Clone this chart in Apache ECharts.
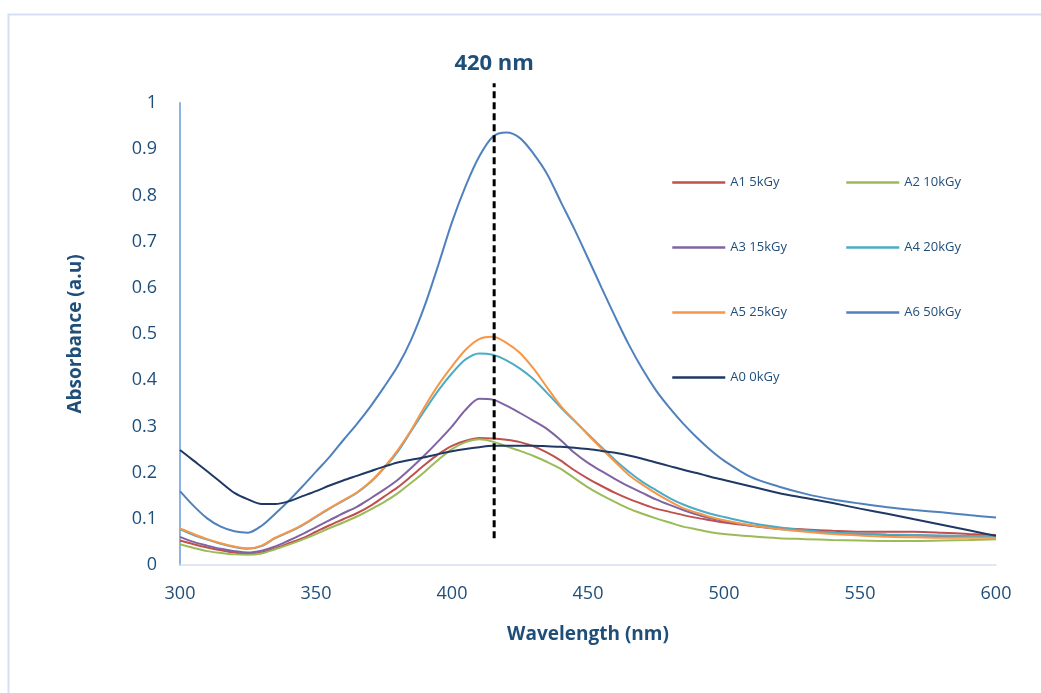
<!DOCTYPE html>
<html>
<head>
<meta charset="utf-8">
<script src="https://cdn.jsdelivr.net/npm/echarts@6/dist/echarts.min.js"></script>
<style>
html,body{margin:0;padding:0;background:#fff;}
#uvChart{width:1041px;height:693px;}
</style>
</head>
<body>
<div id="uvChart"></div>
<script>
var wavelength = [300,305,310,315,320,325,330,335,340,345,350,355,360,365,370,375,380,385,390,395,400,405,410,415,420,425,430,435,440,445,450,455,460,465,470,475,480,485,490,495,500,510,520,530,540,550,560,570,580,590,600];
var a1 = [0.053,0.045,0.038,0.032,0.027,0.024,0.027,0.036,0.047,0.058,0.072,0.086,0.099,0.112,0.128,0.148,0.168,0.192,0.217,0.240,0.258,0.269,0.275,0.274,0.271,0.266,0.257,0.243,0.226,0.205,0.187,0.171,0.156,0.143,0.132,0.122,0.115,0.108,0.102,0.097,0.092,0.085,0.080,0.077,0.074,0.072,0.072,0.072,0.070,0.067,0.065];
var a2 = [0.045,0.037,0.030,0.026,0.023,0.022,0.025,0.034,0.044,0.055,0.067,0.080,0.092,0.105,0.120,0.136,0.155,0.178,0.202,0.228,0.251,0.266,0.272,0.267,0.257,0.247,0.236,0.223,0.208,0.188,0.168,0.151,0.136,0.122,0.111,0.101,0.092,0.083,0.077,0.071,0.067,0.062,0.058,0.056,0.054,0.053,0.052,0.052,0.053,0.054,0.056];
var a3 = [0.061,0.050,0.042,0.035,0.030,0.027,0.031,0.040,0.053,0.067,0.082,0.097,0.112,0.126,0.144,0.163,0.184,0.210,0.238,0.268,0.300,0.336,0.360,0.358,0.345,0.329,0.312,0.294,0.270,0.243,0.221,0.203,0.186,0.170,0.156,0.142,0.130,0.119,0.109,0.101,0.095,0.085,0.078,0.074,0.070,0.067,0.065,0.064,0.063,0.062,0.061];
var a4 = [0.077,0.065,0.055,0.046,0.039,0.035,0.041,0.058,0.071,0.086,0.104,0.122,0.139,0.156,0.179,0.209,0.245,0.290,0.335,0.378,0.415,0.445,0.458,0.455,0.443,0.425,0.402,0.372,0.341,0.312,0.283,0.255,0.227,0.202,0.180,0.162,0.145,0.131,0.120,0.111,0.104,0.091,0.082,0.075,0.070,0.068,0.066,0.065,0.064,0.063,0.062];
var a5 = [0.079,0.067,0.056,0.047,0.040,0.036,0.042,0.059,0.072,0.087,0.105,0.123,0.140,0.157,0.180,0.211,0.248,0.292,0.343,0.390,0.430,0.466,0.489,0.494,0.481,0.459,0.425,0.384,0.344,0.313,0.282,0.252,0.223,0.195,0.174,0.155,0.138,0.123,0.113,0.104,0.097,0.086,0.078,0.072,0.067,0.064,0.061,0.060,0.059,0.059,0.059];
var a6 = [0.160,0.128,0.101,0.083,0.073,0.070,0.085,0.111,0.139,0.170,0.202,0.234,0.270,0.305,0.343,0.385,0.430,0.488,0.562,0.650,0.742,0.820,0.884,0.927,0.936,0.924,0.890,0.846,0.786,0.727,0.664,0.600,0.537,0.477,0.424,0.378,0.340,0.306,0.276,0.249,0.226,0.190,0.170,0.154,0.142,0.133,0.125,0.119,0.114,0.108,0.103];
var a0 = [0.249,0.226,0.203,0.179,0.156,0.142,0.132,0.132,0.138,0.149,0.160,0.172,0.183,0.193,0.203,0.213,0.222,0.228,0.233,0.240,0.246,0.251,0.255,0.258,0.258,0.258,0.258,0.257,0.256,0.254,0.251,0.247,0.243,0.237,0.230,0.222,0.214,0.206,0.199,0.191,0.184,0.170,0.156,0.145,0.134,0.122,0.111,0.099,0.087,0.075,0.063];
var peakX = [415.5,415.5];
var peakY = [0.058,1.043];

var names = ['A1 5kGy','A2 10kGy','A3 15kGy','A4 20kGy','A5 25kGy','A6 50kGy','A0 0kGy'];
var colors = ['#C0504D','#9BBB59','#8064A2','#4BACC6','#F79646','#4F81BD','#1F3864'];
var values = [a1,a2,a3,a4,a5,a6,a0];
var txtColor = '#1F4E79';

function pairs(xs, ys){
	var out = [];
	for (var i = 0; i < xs.length; i++) out.push([xs[i], ys[i]]);
	return out;
}

var myChart = echarts.init(document.getElementById('uvChart'));
var series = [];
for (var k = 0; k < values.length; k++) {
	series.push({
		name: names[k],
		type: 'line',
		data: pairs(wavelength, values[k]),
		smooth: 0.3,
		symbol: 'none',
		lineStyle: {width: 2, color: colors[k]},
		itemStyle: {color: colors[k]}
	});
}
// dashed marker at the SPR band
series.push({
	name: 'peak',
	type: 'line',
	data: pairs(peakX, peakY),
	symbol: 'none',
	clip: false,
	silent: true,
	lineStyle: {width: 3, color: '#000', type: [7,4]}
});
// "420 nm" text on top of the marker
series.push({
	name: 'peakLabel',
	type: 'scatter',
	data: [[peakX[1], peakY[1]]],
	clip: false,
	silent: true,
	symbol: 'circle',
	symbolSize: 2,
	itemStyle: {color: 'rgba(0,0,0,0)', opacity: 1},
	label: {show: true, position: 'top', distance: 7, formatter: '420 nm',
		color: txtColor, fontSize: 22, fontWeight: 'bold', fontFamily: 'Open Sans'}
});

var legendBase = {
	orient: 'vertical',
	top: 171,
	itemWidth: 53, itemHeight: 14, itemGap: 52,
	itemStyle: {opacity: 0},
	lineStyle: {width: 2.5},
	textStyle: {color: txtColor, fontSize: 13}
};

var option = {
	backgroundColor: '#fff',
	animation: false,
	textStyle: {fontFamily: 'Open Sans'},
	graphic: [{
		type: 'rect',
		shape: {x: 8.5, y: 14.5, width: 1100, height: 720},
		style: {fill: 'none', stroke: '#D5E1F3', lineWidth: 2},
		silent: true
	}],
	grid: {left: 180, right: 45, top: 103, bottom: 128},
	legend: [
		echarts.util.merge({left: 666, data: ['A1 5kGy','A3 15kGy','A5 25kGy','A0 0kGy']}, legendBase),
		echarts.util.merge({left: 840, data: ['A2 10kGy','A4 20kGy','A6 50kGy']}, legendBase)
	],
	xAxis: {
		type: 'value',
		min: 300, max: 600, interval: 50,
		name: 'Wavelength (nm)',
		nameLocation: 'middle',
		nameGap: 60,
		nameTextStyle: {color: txtColor, fontSize: 19, fontWeight: 'bold'},
		axisLine: {show: true, lineStyle: {color: '#D6E0F0', width: 1.5}},
		axisTick: {show: false},
		splitLine: {show: false},
		axisLabel: {color: txtColor, fontSize: 18, margin: 20}
	},
	yAxis: {
		type: 'value',
		min: 0, max: 1, interval: 0.1,
		name: 'Absorbance (a.u)',
		nameLocation: 'middle',
		nameGap: 95,
		nameTextStyle: {color: txtColor, fontSize: 19, fontWeight: 'bold'},
		axisLine: {show: true, lineStyle: {color: '#8DB3E2', width: 2}},
		axisTick: {show: false},
		splitLine: {show: false},
		axisLabel: {color: txtColor, fontSize: 18, margin: 23}
	},
	series: series
};
myChart.setOption(option);
</script>
</body>
</html>
